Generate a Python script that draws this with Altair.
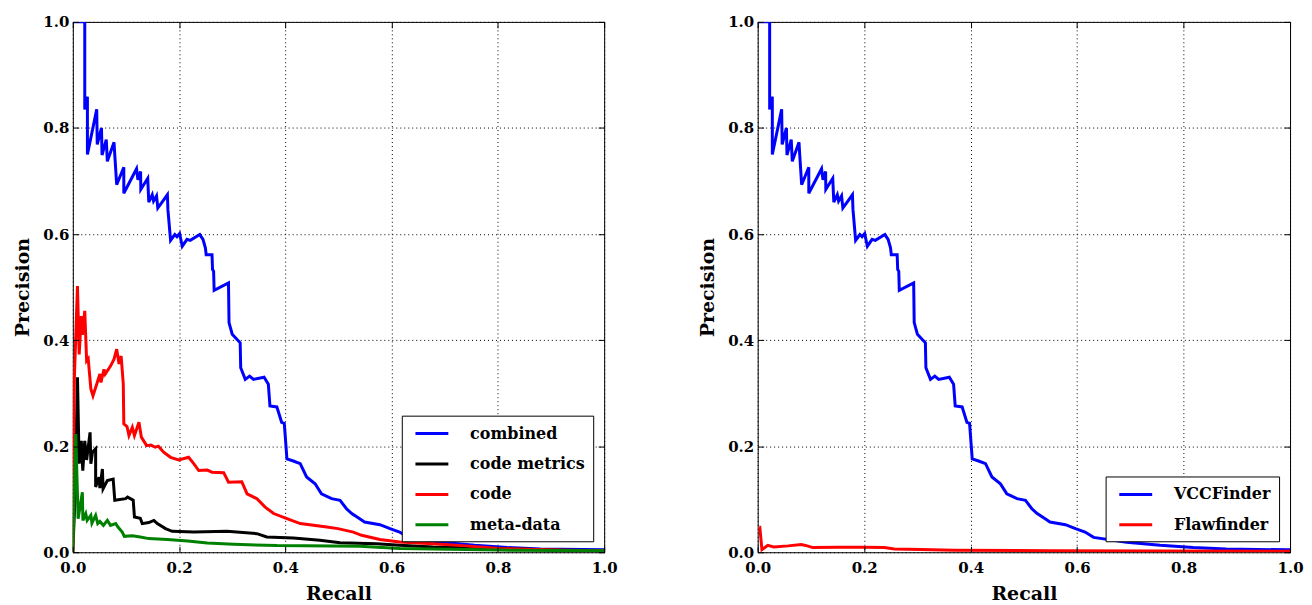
import altair as alt
import pandas as pd

# ---------------- data ----------------
combined_recall = [0.0, 0.0225, 0.0225, 0.0275, 0.0275, 0.045, 0.046, 0.054, 0.055, 0.063, 0.065,
                   0.0776, 0.079, 0.0826, 0.096, 0.096, 0.120, 0.1226, 0.1276, 0.128, 0.141, 0.143,
                   0.1495, 0.152, 0.1576, 0.160, 0.178, 0.179, 0.184, 0.192, 0.196, 0.201, 0.206,
                   0.215, 0.221, 0.239, 0.245, 0.2495, 0.251, 0.262, 0.263, 0.265, 0.266, 0.293,
                   0.294, 0.300, 0.315, 0.316, 0.3246, 0.3327, 0.340, 0.360, 0.368, 0.371, 0.384,
                   0.393, 0.398, 0.403, 0.415, 0.428, 0.440, 0.456, 0.468, 0.487, 0.503, 0.515,
                   0.525, 0.540, 0.549, 0.578, 0.597, 0.615, 0.631, 0.693, 0.756, 0.818, 0.880, 1.0]
combined_precision = [1.0, 1.0, 0.835, 0.859, 0.750, 0.835, 0.769, 0.800, 0.749, 0.778, 0.737,
                      0.773, 0.749, 0.693, 0.726, 0.677, 0.723, 0.702, 0.718, 0.684, 0.705, 0.660,
                      0.674, 0.662, 0.672, 0.649, 0.674, 0.646, 0.588, 0.599, 0.595, 0.601, 0.577,
                      0.590, 0.588, 0.599, 0.590, 0.574, 0.561, 0.561, 0.533, 0.530, 0.494, 0.508,
                      0.433, 0.411, 0.395, 0.348, 0.326, 0.332, 0.326, 0.330, 0.317, 0.276, 0.274,
                      0.245, 0.243, 0.176, 0.172, 0.167, 0.142, 0.129, 0.110, 0.101, 0.098, 0.082,
                      0.073, 0.063, 0.057, 0.052, 0.0445, 0.038, 0.028, 0.019, 0.013, 0.0088, 0.006, 0.0045]

metrics_recall = [0.0, 0.004, 0.0088, 0.012, 0.016, 0.0188, 0.0225, 0.026, 0.0325, 0.034, 0.037,
                  0.043, 0.043, 0.0494, 0.051, 0.0557, 0.057, 0.065, 0.076, 0.079, 0.0994, 0.103,
                  0.1137, 0.116, 0.127, 0.1307, 0.143, 0.1526, 0.159, 0.1745, 0.187, 0.2276, 0.290,
                  0.3465, 0.365, 0.415, 0.465, 0.503, 0.572, 0.615, 0.678, 0.803, 0.928, 1.0]
metrics_precision = [0.0, 0.10, 0.330, 0.167, 0.210, 0.154, 0.210, 0.174, 0.226, 0.167, 0.1886,
                     0.195, 0.1228, 0.1416, 0.121, 0.157, 0.1197, 0.135, 0.138, 0.098, 0.101, 0.104,
                     0.098, 0.0664, 0.064, 0.054, 0.056, 0.060, 0.054, 0.0445, 0.0395, 0.038, 0.0395,
                     0.035, 0.0288, 0.027, 0.0225, 0.018, 0.016, 0.013, 0.010, 0.007, 0.004, 0.003]

code_recall = [0.0, 0.001, 0.003, 0.0088, 0.012, 0.016, 0.018, 0.0225, 0.026, 0.029, 0.034, 0.038,
               0.046, 0.051, 0.053, 0.0587, 0.061, 0.071, 0.0776, 0.0826, 0.087, 0.091, 0.095, 0.096,
               0.102, 0.1057, 0.112, 0.116, 0.1245, 0.129, 0.139, 0.147, 0.155, 0.161, 0.171, 0.184,
               0.1995, 0.218, 0.2276, 0.237, 0.253, 0.262, 0.284, 0.293, 0.318, 0.328, 0.3465, 0.362,
               0.378, 0.403, 0.428, 0.478, 0.499, 0.528, 0.5435, 0.578, 0.615, 0.678, 0.740, 0.803,
               0.928, 1.0]
code_precision = [0.0, 0.167, 0.330, 0.502, 0.373, 0.4455, 0.410, 0.455, 0.361, 0.365, 0.308, 0.295,
                  0.320, 0.336, 0.320, 0.345, 0.336, 0.351, 0.364, 0.383, 0.355, 0.370, 0.317, 0.242,
                  0.237, 0.220, 0.2355, 0.220, 0.245, 0.217, 0.201, 0.202, 0.198, 0.200, 0.1886, 0.179,
                  0.174, 0.179, 0.167, 0.154, 0.155, 0.151, 0.150, 0.132, 0.133, 0.110, 0.101, 0.085,
                  0.073, 0.0633, 0.054, 0.0476, 0.0445, 0.038, 0.032, 0.024, 0.0195, 0.016, 0.012, 0.007,
                  0.004, 0.003]

meta_recall = [0.0, 0.0056, 0.010, 0.018, 0.019, 0.0244, 0.027, 0.034, 0.036, 0.043, 0.047, 0.051,
               0.0576, 0.065, 0.071, 0.0807, 0.085, 0.093, 0.097, 0.112, 0.127, 0.143, 0.178, 0.216,
               0.253, 0.303, 0.384, 0.540, 0.615, 0.803, 1.0]
meta_precision = [0.0, 0.223, 0.063, 0.113, 0.060, 0.0727, 0.060, 0.0695, 0.055, 0.0695, 0.054, 0.058,
                  0.0507, 0.060, 0.0507, 0.054, 0.0476, 0.038, 0.030, 0.031, 0.0288, 0.0257, 0.024,
                  0.0213, 0.0175, 0.015, 0.0125, 0.0113, 0.007, 0.004, 0.003]

flaw_recall = [0.003, 0.004, 0.008, 0.019, 0.030, 0.057, 0.082, 0.093, 0.1036, 0.150, 0.200, 0.238,
               0.2566, 0.3066, 0.369, 0.556, 1.0]
flaw_precision = [0.047, 0.047, 0.005, 0.013, 0.010, 0.012, 0.0145, 0.012, 0.0088, 0.0095, 0.0095,
                  0.0088, 0.0063, 0.005, 0.0038, 0.003, 0.002]

left_names = ["combined", "code metrics", "code", "meta-data"]
left_colors = ["#0000ff", "#000000", "#ff0000", "#008000"]
right_names = ["VCCFinder", "Flawfinder"]
right_colors = ["#0000ff", "#ff0000"]
tick_values = [0.0, 0.2, 0.4, 0.6, 0.8, 1.0]


def build_frame(names, recalls, precisions):
    rows = []
    for name, rs, ps in zip(names, recalls, precisions):
        for i, (r, p) in enumerate(zip(rs, ps)):
            rows.append({"series": name, "recall": r, "precision": p, "idx": i})
    return pd.DataFrame(rows)


left_df = build_frame(left_names,
                      [combined_recall, metrics_recall, code_recall, meta_recall],
                      [combined_precision, metrics_precision, code_precision, meta_precision])
right_df = build_frame(right_names,
                       [combined_recall, flaw_recall],
                       [combined_precision, flaw_precision])

FONT = "DejaVu Serif"
H = 532
TICK = 6


def main_axis(orient, title, label_pad, title_pad):
    return alt.Axis(orient=orient, values=tick_values, format=".1f", title=title,
                    grid=True, gridDash=[1, 3], gridColor="black", gridWidth=1, gridOpacity=1,
                    ticks=False, tickSize=0, domain=False, labelFlush=False,
                    labelFont=FONT, labelFontWeight="bold", labelFontSize=15, labelColor="black",
                    labelPadding=label_pad,
                    titleFont=FONT, titleFontWeight="bold", titleFontSize=19, titleColor="black",
                    titlePadding=title_pad)


def tick_axis(orient, offset):
    # tick-only axis moved inside the frame so its ticks point inward
    return alt.Axis(orient=orient, offset=offset, values=tick_values, labels=False, grid=False,
                    domain=False, ticks=True, tickSize=TICK, tickColor="black", tickWidth=1,
                    title=None, zindex=2)


def panel(df, names, colors, w):
    xs = alt.Scale(domain=[0, 1], nice=False, zero=False)
    ys = alt.Scale(domain=[0, 1], nice=False, zero=False)
    legend = alt.Legend(title=None, orient="bottom-right", offset=11,
                        strokeColor="black", fillColor="white", padding=8, cornerRadius=0,
                        symbolType="M-0.52,0L3.48,0", symbolSize=272.25, symbolStrokeWidth=3,
                        labelFont=FONT, labelFontWeight="bold", labelFontSize=16, labelColor="black",
                        labelOffset=40.5, rowPadding=12.5, labelLimit=400)
    lines = alt.Chart(df).mark_line(strokeWidth=3, clip=True).encode(
        x=alt.X("recall:Q", scale=xs, axis=main_axis("bottom", "Recall", 8, 9)),
        y=alt.Y("precision:Q", scale=ys, axis=main_axis("left", "Precision", 4, 10)),
        color=alt.Color("series:N", scale=alt.Scale(domain=names, range=colors), legend=legend),
        order=alt.Order("idx:Q"),
    )
    # inward ticks along the bottom and left edges
    ticks_a = alt.Chart(df).mark_point(opacity=0).encode(
        x=alt.X("recall:Q", scale=xs, axis=tick_axis("bottom", -TICK)),
        y=alt.Y("precision:Q", scale=ys, axis=tick_axis("left", -TICK)),
    )
    # inward ticks along the top and right edges
    ticks_b = alt.Chart(df).mark_point(opacity=0).encode(
        x=alt.X("recall:Q", scale=xs, axis=tick_axis("bottom", -H)),
        y=alt.Y("precision:Q", scale=ys, axis=tick_axis("left", -w)),
    )
    return (alt.layer(lines, ticks_a, ticks_b)
            .resolve_axis(x="independent", y="independent")
            .properties(width=w, height=H))


left = panel(left_df, left_names, left_colors, 533)
right = panel(right_df, right_names, right_colors, 534)

chart = (alt.hconcat(left, right, spacing=80)
         .resolve_scale(color="independent")
         .resolve_legend(color="independent")
         .properties(padding={"left": 5, "top": 5, "right": 0, "bottom": 0})
         .configure_view(stroke="black", strokeWidth=1))

chart.save("out.html", embed_options={"renderer": "svg", "actions": False})
